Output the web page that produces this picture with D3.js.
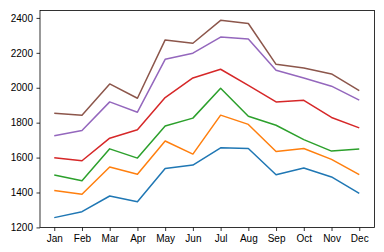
<!DOCTYPE html>
<html>
<head>
<meta charset="utf-8">
<script src="https://cdn.jsdelivr.net/npm/d3@7"></script>
<style>
  body { margin: 0; background: #fff; }
  svg { display: block; font-family: "DejaVu Sans", sans-serif; }
  .axis text { font-size: 10px; fill: #000; }
  .axis path, .axis line { stroke: #000; stroke-width: 0.8; }
  .line { fill: none; stroke-width: 1.5; stroke-linejoin: round; }
</style>
</head>
<body>
<div id="chart"></div>
<script>
const MONTHS = ["Jan", "Feb", "Mar", "Apr", "May", "Jun", "Jul", "Aug", "Sep", "Oct", "Nov", "Dec"]
const Y_TICKS = [1200, 1400, 1600, 1800, 2000, 2200, 2400]
const COLORS = ["#1f77b4", "#ff7f0e", "#2ca02c", "#d62728", "#9467bd", "#8c564b"]

const series0 = [1256, 1290, 1380, 1347, 1538, 1557, 1656, 1652, 1502, 1540, 1489, 1395]
const series1 = [1412, 1390, 1546, 1504, 1695, 1620, 1843, 1790, 1635, 1652, 1590, 1502]
const series2 = [1500, 1467, 1650, 1597, 1781, 1826, 1997, 1837, 1785, 1703, 1637, 1649]
const series3 = [1599, 1582, 1711, 1759, 1944, 2056, 2106, 2014, 1919, 1928, 1830, 1770]
const series4 = [1725, 1755, 1919, 1860, 2163, 2198, 2290, 2279, 2100, 2056, 2009, 1929]
const series5 = [1854, 1843, 2022, 1940, 2274, 2255, 2386, 2368, 2134, 2113, 2079, 1984]

const SERIES = [series0, series1, series2, series3, series4, series5]

const W = 384, H = 252
const MARGIN = { TOP: 10.5, BOTTOM: 24.5, LEFT: 40, RIGHT: 9.5 }

const svg = d3.select("#chart")
    .append("svg")
        .attr("width", W)
        .attr("height", H)

// matplotlib style 5% padding around the data
const xPad = (MONTHS.length - 1) * 0.05
const x = d3.scaleLinear()
    .domain([-xPad, MONTHS.length - 1 + xPad])
    .range([MARGIN.LEFT - 1, W - MARGIN.RIGHT])

const allVals = SERIES.flat()
const [lo, hi] = d3.extent(allVals)
const yPad = (hi - lo) * 0.05
const y = d3.scaleLinear()
    .domain([lo - yPad, hi + yPad])
    .range([H - MARGIN.BOTTOM, MARGIN.TOP])

const line = d3.line()
    .x((d, i) => x(i))
    .y(d => y(d))

svg.selectAll(".line")
    .data(SERIES)
    .enter()
    .append("path")
        .attr("class", "line")
        .attr("d", line)
        .attr("stroke", (d, i) => COLORS[i])

const xAxis = svg.append("g")
    .attr("class", "axis")
    .attr("transform", `translate(0, ${H - MARGIN.BOTTOM})`)
    .call(d3.axisBottom(x)
        .tickValues(d3.range(MONTHS.length))
        .tickFormat(i => MONTHS[i])
        .tickSize(3.5)
        .tickPadding(3.5))

const yAxis = svg.append("g")
    .attr("class", "axis")
    .attr("transform", `translate(${MARGIN.LEFT}, 0)`)
    .call(d3.axisLeft(y)
        .tickValues(Y_TICKS)
        .tickFormat(d3.format("d"))
        .tickSize(3.5)
        .tickPadding(3.5))

xAxis.select(".domain").remove()
yAxis.select(".domain").remove()

// frame (spines)
svg.append("rect")
    .attr("x", MARGIN.LEFT)
    .attr("y", MARGIN.TOP)
    .attr("width", W - MARGIN.LEFT - MARGIN.RIGHT)
    .attr("height", H - MARGIN.TOP - MARGIN.BOTTOM)
    .attr("fill", "none")
    .attr("stroke", "#000")
    .attr("stroke-width", 0.8)
</script>
</body>
</html>
